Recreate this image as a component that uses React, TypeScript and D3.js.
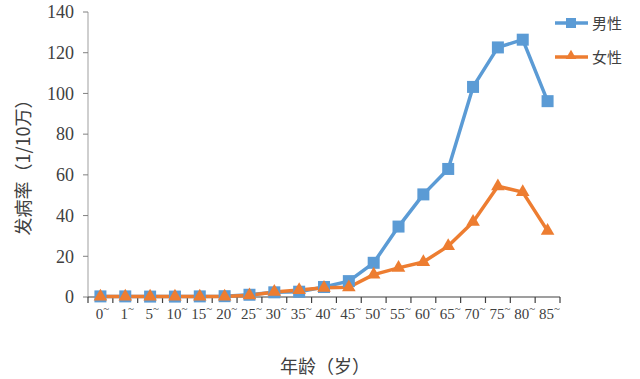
import React from "react";
import * as d3 from "d3";

const categories = ["0", "1", "5", "10", "15", "20", "25", "30", "35", "40", "45", "50", "55", "60", "65", "70", "75", "80", "85"];
const maleValues = [0.3, 0.3, 0.2, 0.2, 0.3, 0.4, 1.1, 2.3, 2.6, 4.9, 7.8, 16.8, 34.6, 50.4, 62.9, 103.2, 122.6, 126.4, 96.2];
const femaleValues = [0.2, 0.2, 0.2, 0.2, 0.2, 0.2, 0.8, 2.5, 3.4, 4.5, 4.8, 11.0, 14.3, 17.2, 25.0, 36.9, 54.4, 51.5, 32.5];
const yTicks = [0, 20, 40, 60, 80, 100, 120, 140];
const seriesNames = ["男性", "女性"];

const BLUE = "#5B9BD5";
const ORANGE = "#ED7D31";

export default function App() {
  const width = 640, height = 379;
  const x0 = 88, x1 = 560, yTop = 12, yBot = 297;
  const x = d3.scaleBand<string>().domain(categories).range([x0, x1]);
  const y = d3.scaleLinear().domain([0, 140]).range([yBot, yTop]);
  const cx = (c: string) => (x(c) as number) + x.bandwidth() / 2;
  const line = d3.line<number>().x((_, i) => cx(categories[i])).y((v) => y(v));
  const tri = d3.symbol().type(d3.symbolTriangle).size(80)();
  const serif = "'Liberation Serif', 'Times New Roman', 'DejaVu Serif', serif";
  const cjk = "'Noto Sans CJK SC', sans-serif";

  return (
    <svg width={width} height={height} style={{ position: "absolute", left: 0, top: 0, background: "#fff" }}>
      <rect x={0} y={0} width={width} height={height} fill="#fff" />
      {/* y axis */}
      <line x1={x0} x2={x0} y1={yTop} y2={yBot} stroke="#bfbfbf" strokeWidth={1.5} />
      {yTicks.map((t) => (
        <g key={t}>
          <line x1={x0 - 5} x2={x0} y1={y(t)} y2={y(t)} stroke="#808080" strokeWidth={1} />
          <text x={74} y={y(t)} dy="0.35em" textAnchor="end" style={{ fontFamily: serif }} fontSize={18} fill="#404040">{t}</text>
        </g>
      ))}
      {/* x axis */}
      <line x1={x0} x2={x1} y1={yBot} y2={yBot} stroke="#404040" strokeWidth={1.2} />
      {d3.range(categories.length + 1).map((i) => {
        const xx = x0 + i * x.step();
        return <line key={i} x1={xx} x2={xx} y1={yBot} y2={yBot + 6} stroke="#404040" strokeWidth={1.2} />;
      })}
      {categories.map((c) => (
        <text key={c} x={cx(c) + 2} y={319} textAnchor="middle" style={{ fontFamily: serif }} fontSize={15} fill="#404040">
          {c}
          <tspan dy={-7} fontSize={11}>~</tspan>
        </text>
      ))}
      {/* lines */}
      <path d={line(maleValues) || ""} fill="none" stroke={BLUE} strokeWidth={3.5} strokeLinejoin="round" />
      <path d={line(femaleValues) || ""} fill="none" stroke={ORANGE} strokeWidth={3.5} strokeLinejoin="round" />
      {maleValues.map((v, i) => (
        <rect key={"m" + i} x={cx(categories[i]) - 6} y={y(v) - 6} width={12} height={12} fill={BLUE} />
      ))}
      {femaleValues.map((v, i) => (
        <path key={"f" + i} d={tri || ""} transform={`translate(${cx(categories[i])},${y(v)})`} fill={ORANGE} />
      ))}
      {/* legend */}
      <g>
        <line x1={555} x2={588} y1={23} y2={23} stroke={BLUE} strokeWidth={3.5} />
        <rect x={566} y={18} width={10} height={10} fill={BLUE} />
        <text x={592} y={29} style={{ fontFamily: cjk }} fontSize={15} fill="#404040">{seriesNames[0]}</text>
        <line x1={555} x2={588} y1={57} y2={57} stroke={ORANGE} strokeWidth={3.5} />
        <path d={d3.symbol().type(d3.symbolTriangle).size(50)() || ""} transform="translate(571,56)" fill={ORANGE} />
        <text x={592} y={63} style={{ fontFamily: cjk }} fontSize={15} fill="#404040">{seriesNames[1]}</text>
      </g>
      {/* titles */}
      <text transform="translate(30,163) rotate(-90)" textAnchor="middle" style={{ fontFamily: cjk }} fontSize={18} fill="#404040">发病率（1/10万）</text>
      <text x={325} y={373} textAnchor="middle" style={{ fontFamily: cjk }} fontSize={18} fill="#404040">年龄（岁）</text>
    </svg>
  );
}
